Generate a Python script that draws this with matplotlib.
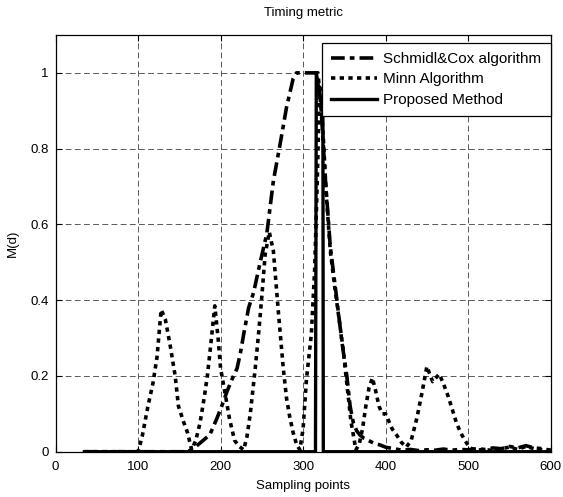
import matplotlib
matplotlib.use("Agg")
import matplotlib.pyplot as plt

plt.rcParams['font.family'] = ['Liberation Sans', 'DejaVu Sans']

# Schmidl&Cox timing metric
sc_x = [35, 160, 167, 179, 187, 195, 201, 208, 215, 220, 224, 228, 234, 240, 248, 256,
        264, 272, 280, 288, 292, 318, 322, 327, 333, 341, 347, 353, 357, 361, 365, 369,
        374, 379, 386, 393, 400, 410, 420, 430, 440, 450, 460, 470, 480, 490, 500, 510,
        520, 530, 540, 550, 560, 570, 580, 590, 600]
sc_y = [0, 0, 0.008, 0.03, 0.045, 0.085, 0.118, 0.16, 0.197, 0.22, 0.26, 0.31, 0.38, 0.42,
        0.5, 0.575, 0.715, 0.81, 0.91, 0.985, 1.0, 1.0, 0.9, 0.72, 0.54, 0.4, 0.29, 0.2,
        0.12, 0.075, 0.055, 0.044, 0.035, 0.03, 0.022, 0.018, 0.012, 0.008, 0.004, 0.006,
        0.003, 0.005, 0.004, 0.007, 0.004, 0.006, 0.005, 0.008, 0.006, 0.01, 0.008, 0.014,
        0.01, 0.016, 0.01, 0.008, 0.004]

# Minn timing metric
minn_x = [35, 100, 105, 112, 118, 123, 128, 133, 139, 145, 149, 155, 160, 165, 170, 175,
          180, 184, 188, 193, 197, 200, 205, 211, 217, 222, 228, 232, 236, 242, 246, 250,
          254, 259, 264, 270, 276, 280, 284, 288, 292, 296, 300, 304, 307, 310, 314, 317,
          320, 324, 328, 333, 338, 343, 348, 353, 358, 364, 368, 372, 376, 380, 384, 388,
          392, 396, 400, 404, 408, 413, 419, 425, 431, 438, 444, 450, 457, 465, 470, 476,
          481, 486, 491, 496, 502, 510, 520, 530, 540, 550, 560, 570, 580, 590, 600]
minn_y = [0, 0, 0.04, 0.12, 0.18, 0.25, 0.375, 0.35, 0.28, 0.2, 0.12, 0.08, 0.05, 0.005,
          0.03, 0.075, 0.14, 0.2, 0.28, 0.385, 0.3, 0.22, 0.16, 0.085, 0.03, 0.015, 0.005,
          0.04, 0.1, 0.22, 0.31, 0.41, 0.52, 0.58, 0.53, 0.37, 0.22, 0.14, 0.09, 0.05, 0.02,
          0.005, 0.06, 0.19, 0.25, 0.31, 0.48, 0.7, 0.97, 0.85, 0.68, 0.53, 0.44, 0.36, 0.28,
          0.18, 0.08, 0.005, 0.02, 0.06, 0.12, 0.17, 0.195, 0.16, 0.12, 0.1, 0.1, 0.08, 0.06,
          0.045, 0.025, 0.012, 0.03, 0.09, 0.155, 0.225, 0.185, 0.205, 0.18, 0.145, 0.11,
          0.075, 0.05, 0.03, 0.01, 0.004, 0.006, 0.003, 0.008, 0.012, 0.006, 0.014, 0.008,
          0.005, 0.003]

# Proposed method
prop_x = [35, 315, 316, 319, 322, 324, 324.5, 600]
prop_y = [0, 0, 1.0, 0.96, 0.92, 0.9, 0, 0]

fig = plt.figure(figsize=(5.63, 4.97), dpi=100)
ax = fig.add_axes([0.0986, 0.0911, 0.8795, 0.8385])

ax.plot(sc_x, sc_y, color='black', lw=2.6, linestyle=(0, (3.8, 1.4, 1.3, 1.4)),
        label='Schmidl&Cox algorithm')
ax.plot(minn_x, minn_y, color='black', lw=2.6, linestyle=(0, (1.2, 1.2)),
        label='Minn Algorithm')
ax.plot(prop_x, prop_y, color='black', lw=2.4, label='Proposed Method')

ax.set_xlim(0, 600)
ax.set_ylim(0, 1.1)
ax.set_xticks(range(0, 601, 100))
ax.set_yticks([0, 0.2, 0.4, 0.6, 0.8, 1])
ax.set_yticklabels(['0', '0.2', '0.4', '0.6', '0.8', '1'])
ax.tick_params(direction='in', top=True, right=True, length=4, labelsize=9.5)
ax.tick_params(axis='x', pad=7)
ax.tick_params(axis='y', pad=5)
ax.grid(True, color='black', linestyle=(0, (7, 4)), lw=0.6, alpha=0.75)
for s in ax.spines.values():
    s.set_linewidth(0.9)

ax.set_title('Timing metric', fontsize=9.5, pad=14)
ax.set_xlabel('Sampling points', fontsize=9.5, labelpad=5)
ax.set_ylabel('M(d)', fontsize=9.5, labelpad=8)

leg = ax.legend(loc='upper right', bbox_to_anchor=(1.0, 0.981), borderaxespad=0,
                fontsize=11, handlelength=3.0, handletextpad=0.4, labelspacing=0.42,
                borderpad=0.6, fancybox=False, framealpha=1, edgecolor='black')
leg.get_frame().set_linewidth(0.9)

fig.savefig('out.png', dpi=100)
